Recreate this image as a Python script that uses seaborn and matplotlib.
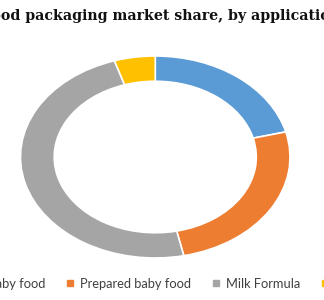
import matplotlib
matplotlib.use("Agg")
import matplotlib.pyplot as plt
import seaborn as sns
from matplotlib.lines import Line2D

sns.set_theme(style="white")
plt.rcParams['font.family'] = ['Lato', 'DejaVu Sans']

title = "Baby food packaging market share, by application"
categories = ["Dried baby food", "Prepared baby food", "Milk Formula", "Others"]
shares = [21.0, 25.6, 48.5, 4.9]
colors = sns.color_palette(["#5B9BD5", "#ED7D31", "#A5A5A5", "#FFC000"])

fig = plt.figure(figsize=(3.24, 3.00), dpi=100)
ax = fig.add_axes([20.5/324, 1-258/300, 269.5/324, 202/300])
ax.pie(shares, colors=colors, startangle=90, counterclock=False,
       wedgeprops=dict(width=0.25, edgecolor="white", linewidth=1.2))
ax.set_aspect("auto")
ax.set_xlim(-1, 1)
ax.set_ylim(-1, 1)
ax.axis("off")

# Title: the reference image is cropped so that "Baby fo" falls off the left edge
renderer = fig.canvas.get_renderer()
tfont = dict(fontsize=10.2, fontweight="bold", family=["DejaVu Serif"], color="#111111")
probe = fig.text(0, 0, "Baby fo", **tfont)
w = probe.get_window_extent(renderer).width
probe.remove()
fig.text(-w/324 + 0.5/324, 1-16/300, title, ha="left", va="center", **tfont)

handles = [Line2D([], [], marker="s", linestyle="none", markersize=4,
                  markerfacecolor=c, markeredgecolor=c) for c in colors]
fig.legend(handles, categories, loc="center", bbox_to_anchor=(157/324, 1-284/300),
           ncol=4, frameon=False, fontsize=9.3, handlelength=0.6, handletextpad=0.5,
           columnspacing=1.6, labelcolor="#404040")

fig.savefig("out.png", dpi=100)
